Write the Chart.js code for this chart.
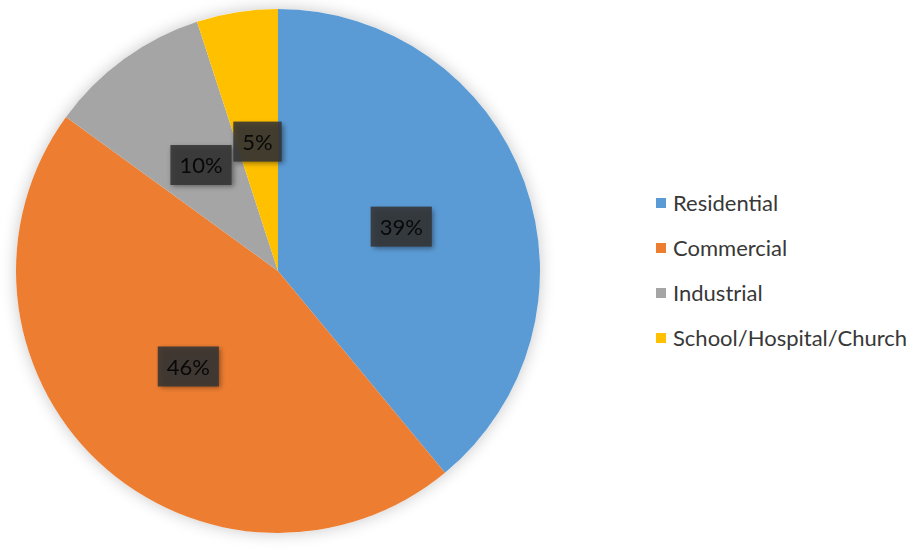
<!DOCTYPE html>
<html lang="en">
<head>
  <meta charset="UTF-8" />
  <title>Customer share</title>
  <script src="https://cdn.jsdelivr.net/npm/chart.js"></script>
  <style>
    body { margin: 0; background: #fff; }
    #wrap { position: relative; width: 920px; height: 550px; }
    #pie-box { position: absolute; left: 0; top: 0; width: 556px; height: 550px; }
    #legend {
      position: absolute; left: 656px; top: 180px;
      margin: 0; padding: 0; list-style: none;
      font-family: Lato, "Open Sans", sans-serif; font-size: 22px; color: #383838;
    }
    #legend li { display: flex; align-items: center; height: 45px; }
    #legend .sw { width: 10px; height: 10px; margin-right: 7px; flex: none; }
  </style>
</head>
<body>
  <div id="wrap">
    <div id="pie-box"><canvas id="pie"></canvas></div>
    <ul id="legend"></ul>
  </div>

  <script>
    // 顧客区分ごとの割合 (%)
    const categories = ['Residential', 'Commercial', 'Industrial', 'School/Hospital/Church'];
    const shares = [39, 46, 10, 5];
    const sliceColors = ['#5B9BD5', '#ED7D31', '#A5A5A5', '#FFC000'];

    // 円の下に柔らかい影
    const pieShadow = {
      id: 'pieShadow',
      beforeDatasetsDraw(chart) {
        const arc = chart.getDatasetMeta(0).data[0];
        if (!arc) return;
        const ctx = chart.ctx;
        ctx.save();
        ctx.shadowColor = 'rgba(0,0,0,0.22)';
        ctx.shadowBlur = 16;
        ctx.fillStyle = '#fff';
        ctx.beginPath();
        ctx.arc(arc.x, arc.y, arc.outerRadius, 0, Math.PI * 2);
        ctx.fill();
        ctx.restore();
      }
    };

    // 各スライス中央に濃いラベルボックス
    const sliceLabels = {
      id: 'sliceLabels',
      afterDatasetsDraw(chart) {
        const ctx = chart.ctx;
        const meta = chart.getDatasetMeta(0);
        ctx.save();
        ctx.font = '22px Lato';
        ctx.textAlign = 'center';
        ctx.textBaseline = 'middle';
        meta.data.forEach((arc, i) => {
          const p = arc.getCenterPoint();
          const text = shares[i] + '%';
          const w = ctx.measureText(text).width + 18;
          const h = 40;
          ctx.save();
          ctx.shadowColor = 'rgba(0,0,0,0.45)';
          ctx.shadowBlur = 5;
          ctx.shadowOffsetX = 2;
          ctx.shadowOffsetY = 2;
          ctx.fillStyle = 'rgba(52,52,52,0.88)';
          ctx.fillRect(p.x - w / 2, p.y - h / 2, w, h);
          ctx.restore();
          ctx.fillStyle = '#080808';
          ctx.fillText(text, p.x, p.y + 1);
        });
        ctx.restore();
      }
    };

    // 凡例はHTMLで右側に並べる
    const htmlLegend = {
      id: 'htmlLegend',
      afterUpdate(chart) {
        const ul = document.getElementById('legend');
        ul.innerHTML = '';
        const items = chart.options.plugins.legend.labels.generateLabels(chart);
        items.forEach(item => {
          const li = document.createElement('li');
          const sw = document.createElement('span');
          sw.className = 'sw';
          sw.style.background = item.fillStyle;
          const label = document.createElement('span');
          label.textContent = item.text;
          li.appendChild(sw);
          li.appendChild(label);
          ul.appendChild(li);
        });
      }
    };

    new Chart(document.getElementById('pie'), {
      type: 'pie',
      data: {
        labels: categories,
        datasets: [{
          data: shares,
          backgroundColor: sliceColors,
          borderWidth: 0
        }]
      },
      options: {
        responsive: true,
        maintainAspectRatio: false,
        animation: false,
        layout: { padding: { top: 9, bottom: 17, left: 0, right: 0 } },
        plugins: {
          legend: { display: false },
          tooltip: { enabled: false }
        }
      },
      plugins: [pieShadow, sliceLabels, htmlLegend]
    });
  </script>
</body>
</html>
